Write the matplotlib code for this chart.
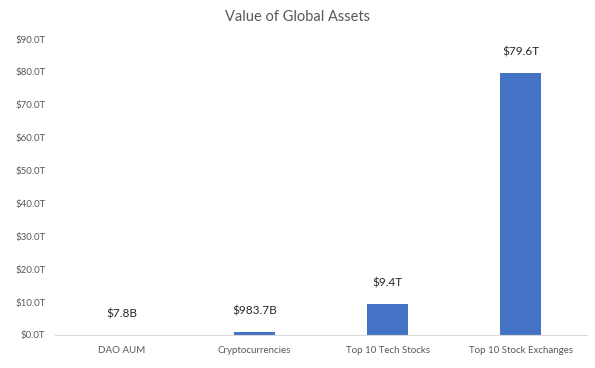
import matplotlib.pyplot as plt

categories = ['DAO AUM', 'Cryptocurrencies', 'Top 10 Tech Stocks', 'Top 10 Stock Exchanges']
values_t = [0.0078, 0.9837, 9.4, 79.6]
value_labels = ['$7.8B', '$983.7B', '$9.4T', '$79.6T']
yticks = [0, 10, 20, 30, 40, 50, 60, 70, 80, 90]

plt.rcParams['font.family'] = ['Lato', 'DejaVu Sans']

fig = plt.figure(figsize=(5.95, 3.68), dpi=100)
ax = fig.add_axes([0.0924, 0.0897, 0.8942, 0.8043])

x = range(len(categories))
bars = ax.bar(x, values_t, width=0.31, color='#4472C4')

for xi, v, lab in zip(x, values_t, value_labels):
    ax.annotate(lab, (xi, v), xytext=(0, 11), textcoords='offset points',
                ha='center', va='bottom', fontsize=8.5, color='#262626')

ax.set_xlim(-0.5, len(categories) - 0.5)
ax.set_ylim(0, 90)
ax.set_yticks(yticks)
ax.set_yticklabels([f'${t:.1f}T' for t in yticks], fontsize=7, color='#595959')
ax.set_xticks(list(x))
ax.set_xticklabels(categories, fontsize=7, color='#595959')
ax.tick_params(length=0, pad=8)
ax.tick_params(axis='y', pad=7)

for s in ['top', 'right', 'left']:
    ax.spines[s].set_visible(False)
ax.spines['bottom'].set_color('#D9D9D9')

fig.text(0.5, 0.955, 'Value of Global Assets', ha='center', va='center',
         fontsize=10.5, color='#595959')

fig.savefig('out.png', dpi=100)
